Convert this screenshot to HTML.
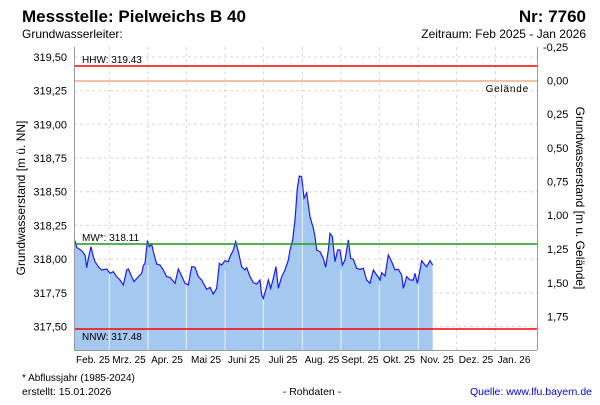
<!DOCTYPE html>
<html><head><meta charset="utf-8"><style>
body{margin:0;background:#fff;width:600px;height:400px;overflow:hidden;font-family:"Liberation Sans",Arial,sans-serif}
</style></head><body>
<svg width="600" height="400" xmlns="http://www.w3.org/2000/svg" font-family="Liberation Sans, Arial, sans-serif">
<text x="22" y="22" font-size="17" font-weight="bold">Messstelle: Pielweichs B 40</text>
<text x="586" y="22" font-size="17" font-weight="bold" text-anchor="end">Nr: 7760</text>
<text x="22" y="38" font-size="12">Grundwasserleiter:</text>
<text x="586" y="38" font-size="12" text-anchor="end">Zeitraum: Feb 2025 - Jan 2026</text>
<g stroke="#d8d8d8" stroke-dasharray="3,3" stroke-width="1">
<line x1="74" x2="537" y1="57" y2="57"/><line x1="74" x2="537" y1="90.7" y2="90.7"/><line x1="74" x2="537" y1="124.3" y2="124.3"/><line x1="74" x2="537" y1="158" y2="158"/><line x1="74" x2="537" y1="191.7" y2="191.7"/><line x1="74" x2="537" y1="225.4" y2="225.4"/><line x1="74" x2="537" y1="259.1" y2="259.1"/><line x1="74" x2="537" y1="292.8" y2="292.8"/><line x1="74" x2="537" y1="326.5" y2="326.5"/>
<line x1="109.3" x2="109.3" y1="47" y2="350"/><line x1="148" x2="148" y1="47" y2="350"/><line x1="186.3" x2="186.3" y1="47" y2="350"/><line x1="225" x2="225" y1="47" y2="350"/><line x1="263.3" x2="263.3" y1="47" y2="350"/><line x1="302.3" x2="302.3" y1="47" y2="350"/><line x1="341" x2="341" y1="47" y2="350"/><line x1="379.3" x2="379.3" y1="47" y2="350"/><line x1="418.3" x2="418.3" y1="47" y2="350"/><line x1="456.7" x2="456.7" y1="47" y2="350"/><line x1="495.5" x2="495.5" y1="47" y2="350"/>
</g>
<g transform="translate(60,170) scale(0.33333)">
<path fill="#a4c8f0" d="M45,540 L45,212 L50,232 L65,242 L75,255 L80,293 L85,265 L93,230 L100,260 L105,275 L115,290 L125,300 L140,297 L150,310 L160,305 L170,320 L180,330 L190,345 L200,300 L205,297 L215,320 L222,335 L235,320 L245,310 L250,287 L255,280 L262,212 L268,230 L275,222 L280,245 L290,282 L300,285 L310,300 L320,320 L330,322 L345,340 L355,297 L365,318 L375,340 L385,345 L395,290 L405,292 L415,320 L425,330 L440,358 L450,352 L460,372 L470,355 L478,280 L485,285 L495,272 L505,275 L510,260 L520,240 L527,215 L535,245 L545,290 L555,300 L560,293 L570,320 L580,338 L590,342 L600,330 L605,375 L610,385 L620,350 L625,330 L632,355 L640,325 L648,290 L655,355 L665,320 L675,300 L685,270 L690,240 L698,210 L705,150 L712,55 L718,18 L725,20 L732,85 L740,68 L750,140 L760,175 L765,200 L770,240 L780,245 L790,265 L797,292 L805,240 L810,190 L817,200 L825,275 L833,240 L840,240 L847,285 L855,270 L865,210 L872,265 L880,268 L890,295 L900,298 L910,295 L920,330 L930,340 L940,300 L950,315 L960,330 L965,308 L975,318 L985,255 L995,275 L1005,300 L1015,298 L1025,315 L1030,355 L1040,320 L1050,330 L1060,330 L1065,310 L1072,340 L1080,300 L1085,272 L1095,285 L1100,290 L1110,272 L1118,285 L1118,540 Z"/>
</g>
<g stroke="#eef3fa" stroke-width="1">
<line x1="109.3" x2="109.3" y1="270" y2="350"/><line x1="148" x2="148" y1="265" y2="350"/><line x1="186.3" x2="186.3" y1="285" y2="350"/><line x1="225" x2="225" y1="270" y2="350"/><line x1="263.3" x2="263.3" y1="300" y2="350"/><line x1="302.3" x2="302.3" y1="180" y2="350"/><line x1="341" x2="341" y1="270" y2="350"/><line x1="379.3" x2="379.3" y1="285" y2="350"/><line x1="418.3" x2="418.3" y1="285" y2="350"/>
</g>
<g transform="translate(60,170) scale(0.33333)">
<path fill="none" stroke="#1a1aff" stroke-width="1.2" vector-effect="non-scaling-stroke" d="M45,212 L50,232 L65,242 L75,255 L80,293 L85,265 L93,230 L100,260 L105,275 L115,290 L125,300 L140,297 L150,310 L160,305 L170,320 L180,330 L190,345 L200,300 L205,297 L215,320 L222,335 L235,320 L245,310 L250,287 L255,280 L262,212 L268,230 L275,222 L280,245 L290,282 L300,285 L310,300 L320,320 L330,322 L345,340 L355,297 L365,318 L375,340 L385,345 L395,290 L405,292 L415,320 L425,330 L440,358 L450,352 L460,372 L470,355 L478,280 L485,285 L495,272 L505,275 L510,260 L520,240 L527,215 L535,245 L545,290 L555,300 L560,293 L570,320 L580,338 L590,342 L600,330 L605,375 L610,385 L620,350 L625,330 L632,355 L640,325 L648,290 L655,355 L665,320 L675,300 L685,270 L690,240 L698,210 L705,150 L712,55 L718,18 L725,20 L732,85 L740,68 L750,140 L760,175 L765,200 L770,240 L780,245 L790,265 L797,292 L805,240 L810,190 L817,200 L825,275 L833,240 L840,240 L847,285 L855,270 L865,210 L872,265 L880,268 L890,295 L900,298 L910,295 L920,330 L930,340 L940,300 L950,315 L960,330 L965,308 L975,318 L985,255 L995,275 L1005,300 L1015,298 L1025,315 L1030,355 L1040,320 L1050,330 L1060,330 L1065,310 L1072,340 L1080,300 L1085,272 L1095,285 L1100,290 L1110,272 L1118,285"/>
</g>
<line x1="74" x2="537" y1="66" y2="66" stroke="#ff0000" stroke-width="1.5"/>
<line x1="74" x2="537" y1="81" y2="81" stroke="#e8804a" stroke-width="1"/>
<line x1="74" x2="537" y1="244" y2="244" stroke="#1a9a1a" stroke-width="1.5"/>
<line x1="74" x2="537" y1="329" y2="329" stroke="#ff0000" stroke-width="1.5"/>
<g font-size="10">
<text x="82" y="63">HHW: 319.43</text>
<text x="82" y="241">MW*: 318.11</text>
<text x="82" y="340">NNW: 317.48</text>
<text x="529" y="92" text-anchor="end" letter-spacing="0.8">Gelände</text>
</g>
<g stroke="#999" stroke-width="1">
<line x1="74.5" x2="74.5" y1="47" y2="350"/><line x1="537.5" x2="537.5" y1="47" y2="350"/><line x1="74" x2="537" y1="350.5" y2="350.5"/>
</g>
<g font-size="11" text-anchor="end">
<text x="67" y="61">319,50</text><text x="67" y="94.7">319,25</text><text x="67" y="128.3">319,00</text><text x="67" y="162">318,75</text><text x="67" y="195.7">318,50</text><text x="67" y="229.4">318,25</text><text x="67" y="263.1">318,00</text><text x="67" y="296.8">317,75</text><text x="67" y="330.5">317,50</text>
</g>
<g font-size="11">
<text x="543" y="51">-0,25</text><text x="547" y="84.5">0,00</text><text x="547" y="118">0,25</text><text x="547" y="152">0,50</text><text x="547" y="185.5">0,75</text><text x="547" y="219">1,00</text><text x="547" y="253">1,25</text><text x="547" y="287">1,50</text><text x="547" y="320.5">1,75</text>
</g>
<text transform="translate(25,198) rotate(-90)" font-size="12" text-anchor="middle">Grundwasserstand [m ü. NN]</text>
<text transform="translate(576,198) rotate(90)" font-size="12" text-anchor="middle">Grundwasserstand [m u. Gelände]</text>
<g font-size="10" text-anchor="middle">
<text x="93" y="363">Feb. 25</text><text x="129" y="363">Mrz. 25</text><text x="167" y="363">Apr. 25</text><text x="206" y="363">Mai 25</text><text x="244" y="363">Juni 25</text><text x="283" y="363">Juli 25</text><text x="322" y="363">Aug. 25</text><text x="360" y="363">Sept. 25</text><text x="399" y="363">Okt. 25</text><text x="437" y="363">Nov. 25</text><text x="476" y="363">Dez. 25</text><text x="514" y="363">Jan. 26</text>
</g>
<text x="22" y="381" font-size="10">* Abflussjahr (1985-2024)</text>
<text x="22" y="395" font-size="10.5">erstellt:  15.01.2026</text>
<text x="312" y="395" font-size="10.5" text-anchor="middle">- Rohdaten -</text>
<text x="592" y="395" font-size="10.5" text-anchor="end" fill="#0000ee">Quelle: www.lfu.bayern.de</text>
</svg>
</body></html>
